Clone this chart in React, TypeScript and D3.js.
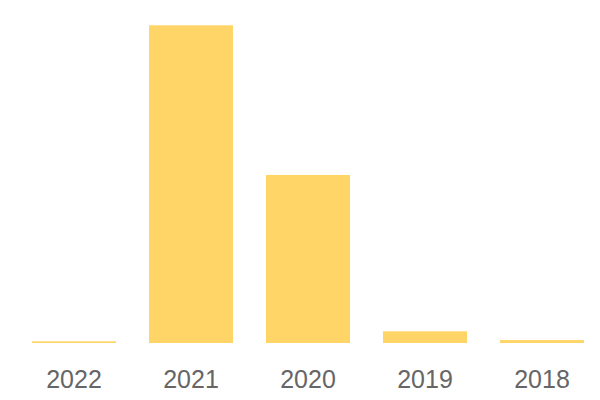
import React, { useEffect, useRef } from "react";
import * as d3 from "d3";

const years = ["2022", "2021", "2020", "2019", "2018"];
const counts = [2, 380, 201, 14, 3.5];

const W = 600;
const H = 400;

export default function App() {
  const ref = useRef<SVGSVGElement>(null);

  useEffect(() => {
    const svg = d3.select(ref.current);
    svg.selectAll("*").remove();

    const data = years.map((y, i) => ({ year: y, value: counts[i] }));

    const x = d3.scaleBand().domain(years).range([32, 584]).paddingInner(0.282).paddingOuter(0);
    const y = d3.scaleLinear().domain([0, d3.max(counts) as number]).range([343, 25.3]);

    svg.selectAll(".bar")
      .data(data)
      .enter().append("rect")
      .attr("class", "bar")
      .attr("x", d => x(d.year) as number)
      .attr("width", x.bandwidth())
      .attr("y", d => y(d.value))
      .attr("height", d => 343 - y(d.value))
      .attr("fill", "#ffd567");

    svg.selectAll(".label")
      .data(data)
      .enter().append("text")
      .attr("class", "label")
      .attr("x", d => (x(d.year) as number) + x.bandwidth() / 2)
      .attr("y", 388)
      .attr("text-anchor", "middle")
      .attr("font-family", "'Liberation Sans', Arial, sans-serif")
      .attr("font-size", 25)
      .attr("fill", "#666666")
      .text(d => d.year);
  }, []);

  return (
    <svg ref={ref} width={W} height={H} style={{ position: "absolute", left: 0, top: 0 }} />
  );
}
